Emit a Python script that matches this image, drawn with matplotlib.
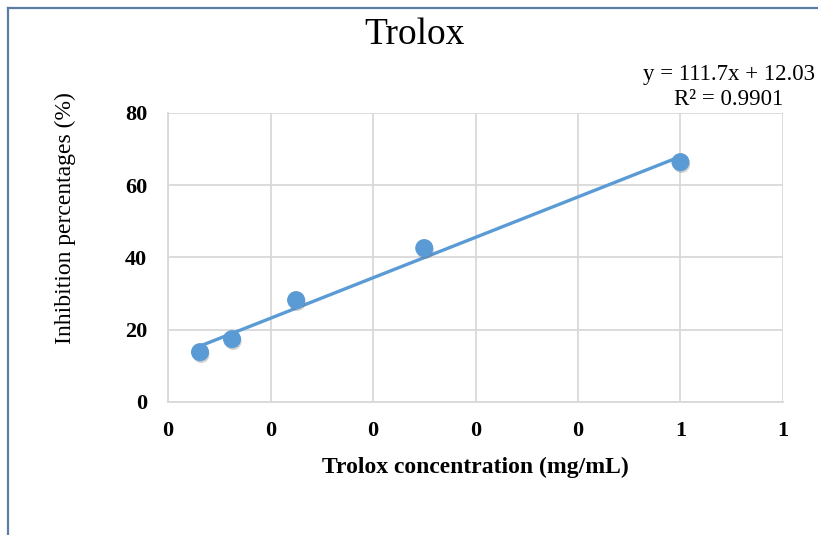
import matplotlib
matplotlib.use("Agg")
import matplotlib.pyplot as plt
import matplotlib.patheffects as pe
import numpy as np
from matplotlib.lines import Line2D

# data
conc = [0.0625, 0.125, 0.25, 0.5, 1.0]
inhibition = [13.8, 17.4, 28.2, 42.6, 66.4]
x_ticks = [0, 0.2, 0.4, 0.6, 0.8, 1.0, 1.2]
x_tick_labels = ["0", "0", "0", "0", "0", "1", "1"]
y_ticks = [0, 20, 40, 60, 80]
equation_text = "y = 111.7x + 12.03\nR² = 0.9901"

BLUE = "#5b9bd5"
GRID = "#d9d9d9"
FRAME = "#5a7fa3"

plt.rcParams["font.family"] = ["Liberation Serif", "DejaVu Serif"]

fig = plt.figure(figsize=(8.18, 5.35), dpi=100)
ax = fig.add_axes([0.2054, 0.2486, 0.7518, 0.5402])

# linear trendline through the points
slope, intercept = np.polyfit(conc, inhibition, 1)
xs = np.array([min(conc), max(conc)])
ax.plot(xs, slope * xs + intercept, color=BLUE, lw=2.4, zorder=3,
        solid_capstyle="round")

shadow = [pe.SimplePatchShadow(offset=(0.8, -1.8), shadow_rgbFace="#666666", alpha=0.3),
          pe.Normal()]
ax.plot(conc, inhibition, "o", color=BLUE, ms=12, zorder=4,
        path_effects=shadow)

ax.set_xlim(0, 1.2)
ax.set_ylim(0, 80)
ax.set_xticks(x_ticks)
ax.set_xticklabels(x_tick_labels)
ax.set_yticks(y_ticks)
ax.grid(True, color=GRID, lw=1.3)
ax.set_axisbelow(True)
for side in ["top", "right"]:
    ax.spines[side].set_visible(False)
for side in ["left", "bottom"]:
    ax.spines[side].set_color(GRID)
    ax.spines[side].set_linewidth(1.3)
ax.tick_params(length=0, labelsize=16)
ax.tick_params(axis="x", pad=14)
ax.tick_params(axis="y", pad=15)
for lbl in ax.get_xticklabels() + ax.get_yticklabels():
    lbl.set_fontweight("bold")

ax.set_xlabel("Trolox concentration (mg/mL)", fontsize=17, fontweight="bold")
ax.set_ylabel("Inhibition percentages (%)", fontsize=17)
ax.xaxis.set_label_coords(0.5, -0.228)
ax.yaxis.set_label_coords(-0.1675, 0.635)
ax.xaxis.label.set_va("center")
ax.yaxis.label.set_va("center")

fig.text(0.507, 0.9346, "Trolox", ha="center", va="center", fontsize=27)
fig.text(0.891, 0.838, equation_text, ha="center", va="center", fontsize=16.5,
         linespacing=1.25)

# outer chart frame (top and left edges visible)
fig.add_artist(Line2D([0.0098, 1.0], [0.985, 0.985], transform=fig.transFigure,
                      color=FRAME, lw=1.6))
fig.add_artist(Line2D([0.0098, 0.0098], [0.0, 0.985], transform=fig.transFigure,
                      color=FRAME, lw=1.6))

fig.savefig("out.png", dpi=100)
